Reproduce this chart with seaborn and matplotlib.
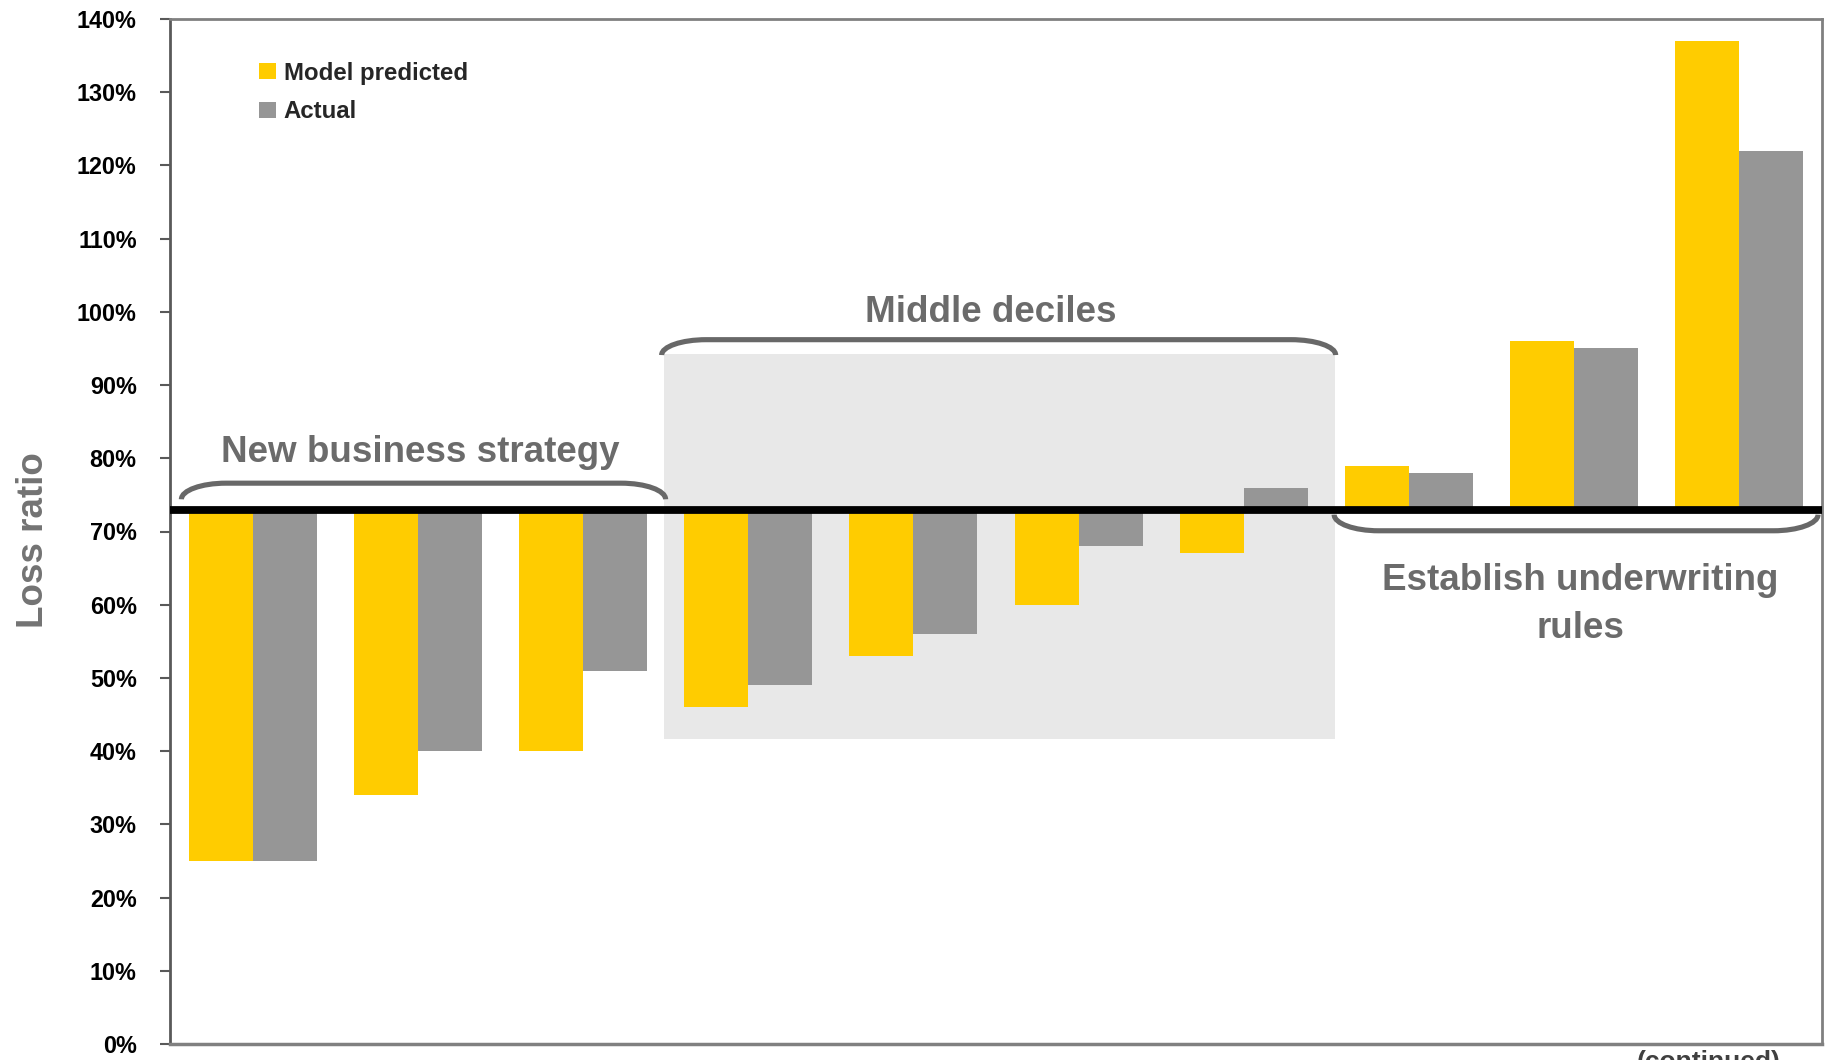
import matplotlib
matplotlib.use("Agg")
import matplotlib.pyplot as plt
from matplotlib.path import Path
from matplotlib.patches import PathPatch, Rectangle
from matplotlib.ticker import FuncFormatter
import pandas as pd
import seaborn as sns

# ---------------- data ----------------
deciles = ["1", "2", "3", "4", "5", "6", "7", "8", "9", "10"]
model_predicted = [25, 34, 40, 46, 53, 60, 67, 79, 96, 137]
actual = [25, 40, 51, 49, 56, 68, 76, 78, 95, 122]
series_names = ["Model predicted", "Actual"]
baseline = 73
y_ticks = list(range(0, 141, 10))
group_labels = ["New business strategy", "Middle deciles", "Establish underwriting\nrules"]
y_label = "Loss ratio"
footer = "(continued)"

# ---------------- style ----------------
YELLOW = "#FFCC00"
GRAY = "#969696"
TEXT_GRAY = "#6b6b6b"
BRACKET_GRAY = "#686868"

sns.set_style("white")
plt.rcParams["font.family"] = ["Liberation Sans", "DejaVu Sans"]
plt.rcParams["font.weight"] = "bold"

W, H = 1826, 1060
fig = plt.figure(figsize=(W / 100, H / 100), dpi=100)
ax = fig.add_axes([170 / W, 16 / H, 1652 / W, 1025 / H])

df = pd.DataFrame({
    "decile": deciles * 2,
    "series": [series_names[0]] * len(deciles) + [series_names[1]] * len(deciles),
    "value": model_predicted + actual,
})
df["offset"] = df["value"] - baseline

# shaded "middle deciles" band
ax.add_patch(Rectangle((2.49, 41.6), 6.55 - 2.49, 94.2 - 41.6,
                       facecolor="#e8e8e8", edgecolor="none", zorder=0))

sns.barplot(data=df, x="decile", y="offset", hue="series", order=deciles,
            hue_order=series_names, palette=[YELLOW, GRAY], saturation=1,
            width=0.775, errorbar=None, legend=False, bottom=baseline,
            linewidth=0, ax=ax, zorder=2)

ax.axhline(baseline, color="black", lw=5.6, zorder=4)


def bracket(ax, x0, x1, y_end, y_flat, rx=0.27, k=0.552):
    dy = y_flat - y_end
    verts = [
        (x0, y_end),
        (x0, y_end + k * dy), (x0 + rx * (1 - k), y_flat), (x0 + rx, y_flat),
        (x1 - rx, y_flat),
        (x1 - rx * (1 - k), y_flat), (x1, y_end + k * dy), (x1, y_end),
    ]
    codes = [Path.MOVETO, Path.CURVE4, Path.CURVE4, Path.CURVE4, Path.LINETO,
             Path.CURVE4, Path.CURVE4, Path.CURVE4]
    ax.add_patch(PathPatch(Path(verts, codes), facecolor="none",
                           edgecolor=BRACKET_GRAY, lw=3.7, zorder=5,
                           capstyle="butt"))


bracket(ax, -0.431, 2.50, 74.4, 76.6)
bracket(ax, 2.476, 6.556, 94.1, 96.2)
bracket(ax, 6.547, 9.476, 72.3, 70.1)

ann = dict(ha="center", va="baseline", fontsize=26.5, color=TEXT_GRAY,
           fontweight="bold", zorder=6)
ax.text(1.016, 79.5, group_labels[0], **ann)
ax.text(4.47, 98.6, group_labels[1], **ann)
ax.text(8.035, 55.5, group_labels[2], linespacing=1.46,
        multialignment="center", **ann)

# axes
ax.set_xlim(-0.5, 9.5)
ax.set_ylim(0, 140)
ax.set_xticks([])
ax.set_xlabel("")
ax.set_yticks(y_ticks)
ax.yaxis.set_major_formatter(FuncFormatter(lambda v, p: f"{int(v)}%"))
ax.tick_params(axis="y", left=True, direction="out", length=7, width=1.5,
               color="#595959", pad=17, labelsize=16.8, labelcolor="black")
for t in ax.get_yticklabels():
    t.set_fontweight("bold")

for s in ["top", "right", "bottom"]:
    ax.spines[s].set_color("#808080")
    ax.spines[s].set_linewidth(2)
ax.spines["bottom"].set_linewidth(2.5)
ax.spines["left"].set_color("#595959")
ax.spines["left"].set_linewidth(2)

ax.set_ylabel(y_label, fontsize=26.5, color="#737373", fontweight="bold")
ax.yaxis.label.set_va("baseline")
ax.yaxis.set_label_coords(-0.0769, 0.492)

ax.legend(ax.containers[:2], series_names, loc="upper left",
          bbox_to_anchor=(0.0539, 0.9585), frameon=False, fontsize=17.3,
          handlelength=0.72, handleheight=0.62, handletextpad=0.31,
          labelspacing=0.66, borderpad=0, borderaxespad=0)

fig.text(1709 / W, 1 - 1050 / H, footer, ha="center", va="top", fontsize=19,
         color="#404040", fontweight="bold")

fig.savefig("out.png", dpi=100)
